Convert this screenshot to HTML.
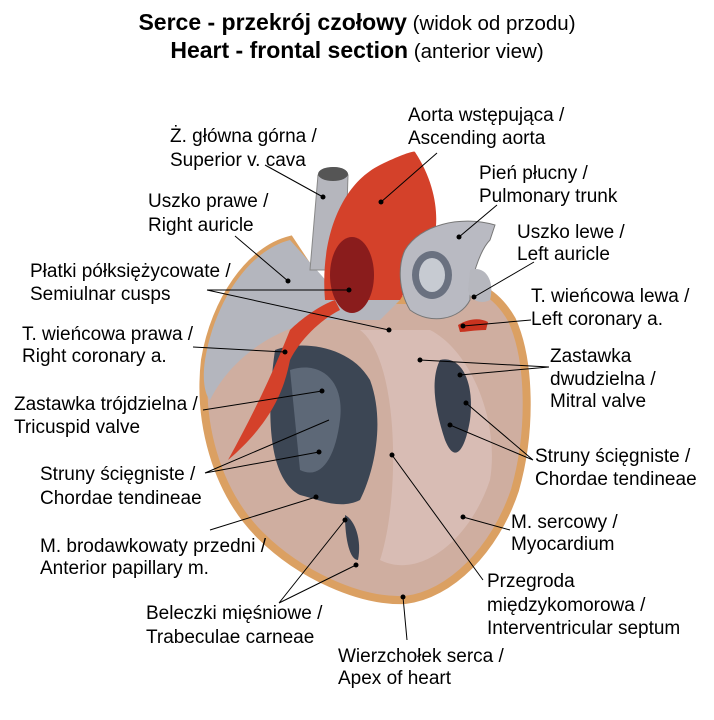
<!DOCTYPE html>
<html><head><meta charset="utf-8"><style>
body{margin:0;background:#fff;width:714px;height:720px;overflow:hidden;font-family:"Liberation Sans",sans-serif}
svg{position:absolute;left:0;top:0}
text{font-family:"Liberation Sans",sans-serif;font-size:19px;fill:#000}
.t{font-size:23px;font-weight:bold}
.s{font-size:20.5px}
</style></head><body>
<svg width="714" height="720" viewBox="0 0 714 720">
<path d="M290,240 C250,250 215,300 205,360 C198,420 215,490 260,535 C300,575 360,602 405,600 C450,595 495,550 515,490 C532,430 530,360 512,320 C495,290 470,280 450,285 L420,300 L330,300 Z" fill="#cfaea0" stroke="#dba062" stroke-width="8"/>
<path d="M290,240 C250,250 215,300 205,360 C202,380 205,395 210,400 C230,360 270,330 320,320 L380,320 L400,300 L330,285 Z" fill="#b4b6be"/>
<path d="M360,330 C400,360 400,500 380,560 C420,580 470,540 490,480 C500,420 470,350 430,330 Z" fill="#d8bcb4"/>
<path d="M275,350 C300,340 350,345 370,380 C385,420 375,470 360,500 C340,510 320,500 300,495 C270,480 265,420 275,350 Z" fill="#3c4654"/>
<path d="M290,370 C320,360 345,380 340,420 C335,460 320,480 300,470 Z" fill="#5d6877"/>
<path d="M440,360 C460,355 475,380 470,420 C465,450 455,465 445,440 C435,410 430,380 440,360 Z" fill="#3a4250"/>
<path d="M345,515 C355,520 362,540 358,560 C350,560 345,540 345,515 Z" fill="#3a4250"/>
<path d="M318,175 C325,165 345,165 348,175 L345,270 L310,270 Z" fill="#b5b6bd" stroke="#888" stroke-width="1"/>
<ellipse cx="333" cy="174" rx="15" ry="7" fill="#555"/>
<path d="M325,300 C320,240 340,185 380,165 C400,155 415,150 415,152 C440,190 440,230 430,250 L400,300 Z" fill="#d4412a"/>
<ellipse cx="352" cy="275" rx="22" ry="38" fill="#8a1c1c"/>
<path d="M290,330 C300,320 320,305 335,300 L340,310 C320,320 300,340 290,360 C285,385 275,420 228,460 C250,420 270,380 290,330 Z" fill="#d4412a"/>
<path d="M405,250 C420,225 460,215 495,225 L490,240 C480,250 470,280 470,300 C460,320 430,325 410,310 C398,290 398,265 405,250 Z" fill="#b9bac2" stroke="#777" stroke-width="1"/>
<ellipse cx="432" cy="275" rx="20" ry="24" fill="#6a7180"/>
<ellipse cx="432" cy="275" rx="13" ry="17" fill="#c7cbd2"/>
<path d="M470,270 C485,265 495,280 490,300 C480,305 470,300 468,290 Z" fill="#b6b7be"/>
<path d="M458,325 C470,318 480,318 488,322 L486,330 C475,330 465,332 460,332 Z" fill="#c8331f"/>

<g fill="none" stroke="#000" stroke-width="1">
<path d="M265,165 L323,197"/>
<path d="M437,153 L381,202"/>
<path d="M497,205 L459,237"/>
<path d="M235,236 L288,281"/>
<path d="M534,262 L474,297"/>
<path d="M207,290 L349,290 M207,290 L389,330"/>
<path d="M531,320 L463,326"/>
<path d="M193,347 L285,352"/>
<path d="M549,367 L420,360 M549,367 L460,375"/>
<path d="M203,410 L322,391"/>
<path d="M533,460 L466,403 M533,460 L450,425"/>
<path d="M205,473 L329,420 M205,473 L319,452"/>
<path d="M510,530 L463,517"/>
<path d="M210,530 L316,497"/>
<path d="M279,603 L345,520 M279,603 L356,565"/>
<path d="M483,580 L392,455"/>
<path d="M407,640 L403,597"/>
</g>
<g fill="#000">
<circle cx="323" cy="197" r="2.5"/><circle cx="381" cy="202" r="2.5"/><circle cx="459" cy="237" r="2.5"/><circle cx="288" cy="281" r="2.5"/><circle cx="474" cy="297" r="2.5"/><circle cx="349" cy="290" r="2.5"/><circle cx="389" cy="330" r="2.5"/><circle cx="463" cy="326" r="2.5"/><circle cx="285" cy="352" r="2.5"/><circle cx="420" cy="360" r="2.5"/><circle cx="460" cy="375" r="2.5"/><circle cx="322" cy="391" r="2.5"/><circle cx="466" cy="403" r="2.5"/><circle cx="450" cy="425" r="2.5"/><circle cx="319" cy="452" r="2.5"/><circle cx="463" cy="517" r="2.5"/><circle cx="316" cy="497" r="2.5"/><circle cx="345" cy="520" r="2.5"/><circle cx="356" cy="565" r="2.5"/><circle cx="392" cy="455" r="2.5"/><circle cx="403" cy="597" r="2.5"/>
</g>

<text x="357" y="30" text-anchor="middle"><tspan class="t">Serce - przekrój czołowy</tspan><tspan class="s"> (widok od przodu)</tspan></text>
<text x="357" y="58" text-anchor="middle"><tspan class="t">Heart - frontal section</tspan><tspan class="s"> (anterior view)</tspan></text>

<text x="170" y="142">Ż. główna górna /</text><text x="170" y="166">Superior v. cava</text>
<text x="408" y="121">Aorta wstępująca /</text><text x="408" y="144">Ascending aorta</text>
<text x="479" y="179">Pień płucny /</text><text x="479" y="202">Pulmonary trunk</text>
<text x="148" y="207">Uszko prawe /</text><text x="148" y="231">Right auricle</text>
<text x="517" y="238">Uszko lewe /</text><text x="517" y="260">Left auricle</text>
<text x="30" y="277">Płatki półksiężycowate /</text><text x="30" y="300">Semiulnar cusps</text>
<text x="531" y="302">T. wieńcowa lewa /</text><text x="531" y="325">Left coronary a.</text>
<text x="22" y="340">T. wieńcowa prawa /</text><text x="22" y="362">Right coronary a.</text>
<text x="550" y="362">Zastawka</text><text x="550" y="385">dwudzielna /</text><text x="550" y="407">Mitral valve</text>
<text x="14" y="410">Zastawka trójdzielna /</text><text x="14" y="433">Tricuspid valve</text>
<text x="535" y="462">Struny ścięgniste /</text><text x="535" y="485">Chordae tendineae</text>
<text x="40" y="480">Struny ścięgniste /</text><text x="40" y="504">Chordae tendineae</text>
<text x="511" y="528">M. sercowy /</text><text x="511" y="550">Myocardium</text>
<text x="40" y="552">M. brodawkowaty przedni /</text><text x="40" y="574">Anterior papillary m.</text>
<text x="487" y="587">Przegroda</text><text x="487" y="611">międzykomorowa /</text><text x="487" y="634">Interventricular septum</text>
<text x="146" y="619">Beleczki mięśniowe /</text><text x="146" y="643">Trabeculae carneae</text>
<text x="338" y="662">Wierzchołek serca /</text><text x="338" y="684">Apex of heart</text>
</svg>
</body></html>
